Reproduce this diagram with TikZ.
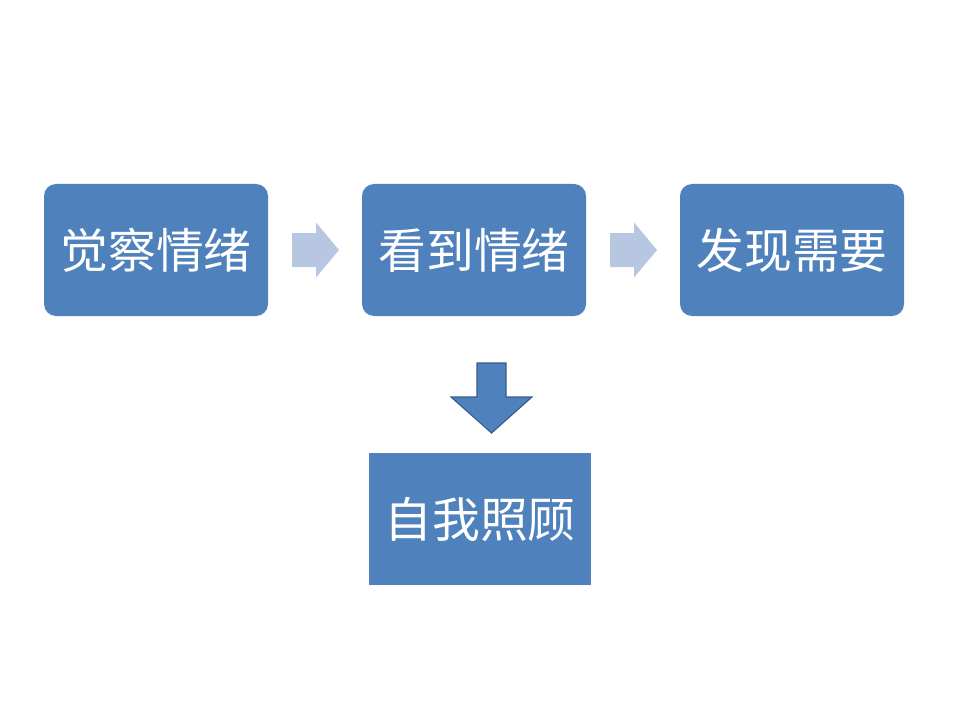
\documentclass[tikz,border=0pt]{standalone}
\usepackage{fontspec}
\newfontfamily\cjk{Noto Sans CJK SC}
\usepackage{tikz}
\usetikzlibrary{positioning,calc}
\definecolor{boxblue}{HTML}{4F81BD}
\definecolor{boxedge}{HTML}{385D8A}
\definecolor{paleblue}{HTML}{B7C6E1}

\begin{document}
\begin{tikzpicture}[
    stage/.style={rectangle, rounded corners=0.3cm, fill=boxblue, minimum width=5.6cm,
                  minimum height=3.3cm, text=white, font=\cjk\fontsize{34}{40}\selectfont},
    result/.style={stage, rounded corners=0pt, minimum width=5.55cm},
    flow/.style={fill=paleblue},
    drop/.style={fill=boxblue, draw=boxedge, line width=0.8pt}
]
\useasboundingbox (0,0) rectangle (24,18);

% --- stages ---
\node[stage] (notice) at (3.9,11.75)  {觉察情绪};
\node[stage] (see)    at (11.85,11.75) {看到情绪};
\node[stage] (need)   at (19.8,11.75)  {发现需要};
\node[result] (care)  at (12.0,5.025)  {自我照顾};

% --- block arrows ---
\fill[flow] (7.3,11.325) -- (7.9,11.325) -- (7.9,11.0625) -- (8.475,11.75)
    -- (7.9,12.4375) -- (7.9,12.175) -- (7.3,12.175) -- cycle;
\fill[flow] (15.25,11.325) -- (15.85,11.325) -- (15.85,11.0625) -- (16.425,11.75)
    -- (15.85,12.4375) -- (15.85,12.175) -- (15.25,12.175) -- cycle;
\draw[drop] (11.925,8.925) -- (12.65,8.925) -- (12.65,8.075) -- (13.3,8.075)
    -- (12.2875,7.175) -- (11.275,8.075) -- (11.925,8.075) -- cycle;

\end{tikzpicture}
\end{document}
